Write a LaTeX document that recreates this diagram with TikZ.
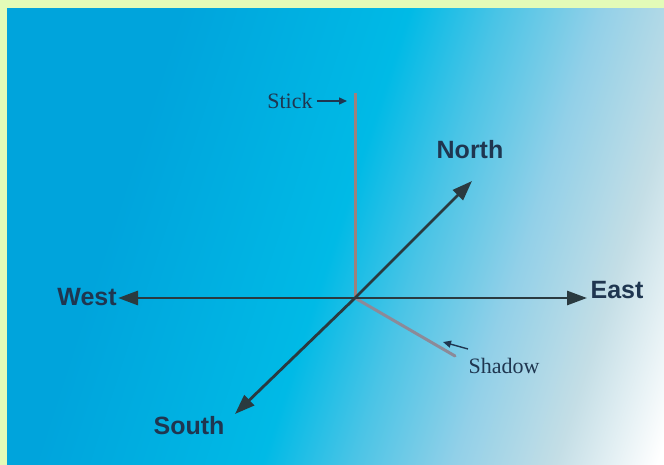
\documentclass[tikz,border=0pt]{standalone}
\usepackage{fontspec}
\setmainfont{Liberation Serif}
\newfontfamily\labfont{Liberation Sans}
\usetikzlibrary{arrows.meta}
\definecolor{frame}{HTML}{E3FBB8}
\definecolor{skyA}{HTML}{00A4DC}
\definecolor{skyB}{HTML}{00BAE6}
\definecolor{skyC}{HTML}{4AC4E6}
\definecolor{skyD}{HTML}{92D0E8}
\definecolor{skyE}{HTML}{C4DEE6}
\definecolor{arrowc}{HTML}{2A3A40}
\definecolor{labc}{HTML}{1F3650}
\definecolor{stickc}{HTML}{9E807C}
\definecolor{shadowc}{HTML}{8C8A98}
\pgfdeclarehorizontalshading{sky}{100bp}{color(0bp)=(skyA); color(32bp)=(skyA); color(50bp)=(skyB); color(57bp)=(skyC); color(65bp)=(skyD); color(73bp)=(skyE); color(81bp)=(white); color(100bp)=(white)}
\tikzset{
  dir/.style={draw=arrowc, line width=2.8pt, -{Triangle[length=20pt,width=14pt]}},
  biglab/.style={font=\labfont\bfseries\fontsize{25}{25}\selectfont, text=labc, inner sep=0pt},
  smalllab/.style={font=\fontsize{22}{22}\selectfont, text=labc, inner sep=0pt},
  pointer/.style={draw=labc, line width=1.4pt, -{Triangle[length=8pt,width=7pt]}},
}
\begin{document}
\begin{tikzpicture}[x=1pt,y=-1pt]
\useasboundingbox (0,0) rectangle (664,465);
\fill[frame] (0,0) rectangle (664,465);
\shade[shading=sky, shading angle=-18] (7,9) rectangle (664,465);
\coordinate (O) at (355,298);
\coordinate (stop) at (355,93);
\coordinate (N) at (472,181);
\coordinate (E) at (587,298);
\coordinate (W) at (118,298);
\coordinate (S) at (235,414);
\coordinate (Sh) at (455,356);
\draw[stickc, line width=3pt] (stop) -- (O);
\draw[shadowc, line width=3pt, line cap=round] (O) -- (Sh);
\draw[dir] (O) -- (N);
\draw[dir] (O) -- (E);
\draw[dir] (O) -- (W);
\draw[dir] (O) -- (S);
\node[biglab] (north) at (470,150) {North};
\node[biglab] (east) at (617,290) {East};
\node[biglab] (west) at (87,297) {West};
\node[biglab] (south) at (189,426) {South};
\node[smalllab] (stick) at (290,101) {Stick};
\node[smalllab] (shadow) at (504,366) {Shadow};
\coordinate (sticktip) at (347,101);
\coordinate (shtail) at (468,349);
\coordinate (shtip) at (443,342);
\draw[pointer] (stick.east) ++(4,0) coordinate (stickstart) -- (sticktip);
\draw[pointer] (shtail) -- (shtip);
\end{tikzpicture}
\end{document}
